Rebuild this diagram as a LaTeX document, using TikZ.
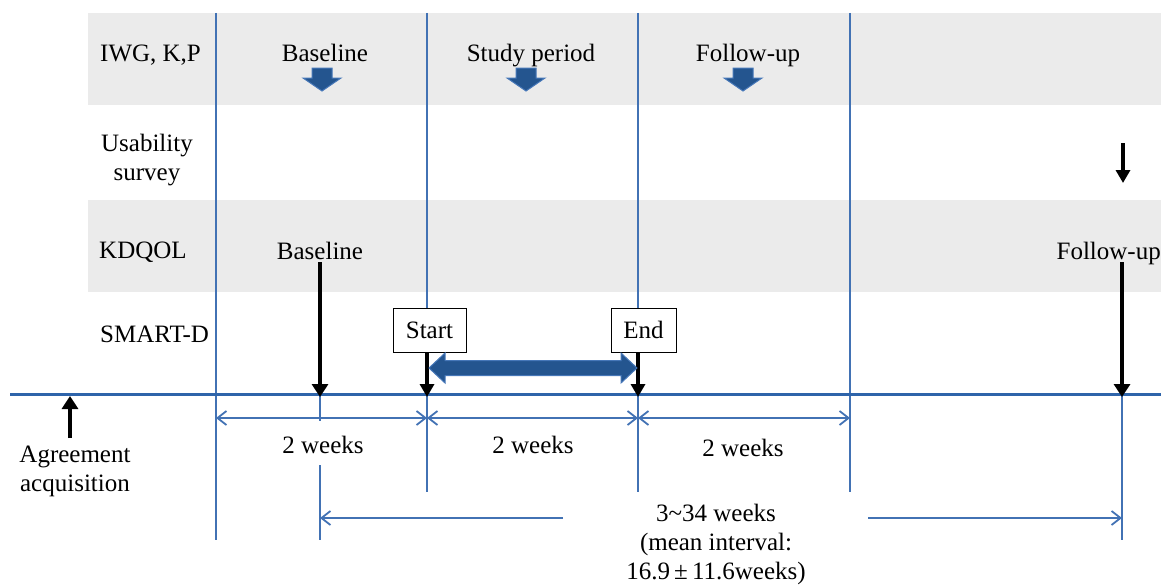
\documentclass[tikz,border=0pt]{standalone}
\usepackage{fontspec}
\setmainfont{Liberation Serif}
\usetikzlibrary{arrows.meta,calc}
\definecolor{lineblue}{HTML}{4272B4}
\definecolor{timeblue}{HTML}{2E64AA}
\definecolor{bandgray}{HTML}{EBEBEB}
\definecolor{arrowblue}{HTML}{24558F}
\definecolor{arrowedge}{HTML}{4677B8}
\begin{document}
\begin{tikzpicture}[x=1pt,y=-1pt,
  lbl/.style={font=\fontsize{25}{29}\selectfont, inner sep=0pt, text=black},
  vguide/.style={draw=lineblue, line width=1.3pt},
  timeline/.style={draw=timeblue, line width=3pt},
  dimarrow/.style={draw=lineblue, line width=1.8pt, {Straight Barb[length=9pt,width=14pt]}-{Straight Barb[length=9pt,width=14pt]}},
  halfdim/.style={draw=lineblue, line width=1.8pt, -{Straight Barb[length=9pt,width=14pt]}},
  blackarrow/.style={draw=black, line width=4.5pt, -{Triangle[length=13pt,width=16pt]}},
  thinblack/.style={draw=black, line width=3.5pt, -{Triangle[length=13pt,width=14pt]}},
  boxnode/.style={draw=black, fill=white, line width=1pt, minimum height=44pt, inner sep=0pt, font=\fontsize{25}{29}\selectfont},
  blockfill/.style={fill=arrowblue, draw=arrowedge, line width=1pt},
  downblock/.pic={\path[blockfill] (-10,0) -- (10,0) -- (10,10) -- (19,10) -- (0,23) -- (-19,10) -- (-10,10) -- cycle;}
]
\useasboundingbox (0,0) rectangle (1161,586);
% bands
\fill[bandgray] (88,13) rectangle (1161,105);
\fill[bandgray] (88,200) rectangle (1161,292);
% vertical guides
\draw[vguide] (216,13) -- (216,540);
\draw[vguide] (427,13) -- (427,492);
\draw[vguide] (638,13) -- (638,492);
\draw[vguide] (850,13) -- (850,492);
\draw[vguide] (320,396) -- (320,421);
\draw[vguide] (320,465) -- (320,540);
\draw[vguide] (1122,396) -- (1122,540);
% timeline
\coordinate (tl0) at (10,394);
\coordinate (tl1) at (1161,394);
\draw[timeline] (tl0) -- (tl1);
\coordinate (t70) at (70,396);
\coordinate (t320) at (320,397);
\coordinate (t427) at (427,397);
\coordinate (t638) at (638,397);
\coordinate (t1122) at (1122,397);
% dimension arrows
\coordinate (d216) at (216,418);
\coordinate (d427) at (427,418);
\coordinate (d638) at (638,418);
\coordinate (d850) at (850,418);
\draw[dimarrow] (d216) -- (d427);
\draw[dimarrow] (d427) -- (d638);
\draw[dimarrow] (d638) -- (d850);
\coordinate (l320) at (320,518);
\coordinate (l563) at (563,518);
\coordinate (l868) at (868,518);
\coordinate (l1122) at (1122,518);
\draw[halfdim] (l563) -- (l320);
\draw[halfdim] (l868) -- (l1122);
% row labels
\node[lbl, anchor=base west] (r1) at (100,61) {IWG, K,P};
\node[lbl, anchor=north, align=center] (r2) at (147,134) {Usability\\survey};
\node[lbl, anchor=base west] (r3) at (99,258) {KDQOL};
\node[lbl, anchor=base west] (r4) at (100,342) {SMART-D};
% row 1
\node[lbl, anchor=base] (b1) at (325,61) {Baseline};
\node[lbl, anchor=base] (s1) at (531,61) {Study period};
\node[lbl, anchor=base] (f1) at (748,61) {Follow-up};
\pic at (322,68) {downblock};
\pic at (526,68) {downblock};
\pic at (743,68) {downblock};
% row 2
\coordinate (u0) at (1123,143);
\coordinate (u1) at (1123,183);
\draw[thinblack] (u0) -- (u1);
% row 3
\node[lbl, anchor=base] (kb) at (320,259) {Baseline};
\node[lbl, anchor=base east] (kf) at (1161,259) {Follow-up};
\coordinate (kf0) at (1122,262);
\draw[blackarrow] ($(kb.south)+(0,3)$) -- (t320);
\draw[blackarrow] (kf0) -- (t1122);
% row 4
\node[boxnode, minimum width=73pt] (st) at (429.5,330) {Start};
\node[boxnode, minimum width=65pt] (en) at (643.5,330) {End};
\draw[thinblack] (st.south -| t427) -- (t427);
\draw[thinblack] (en.south -| t638) -- (t638);
% double block arrow
\path[blockfill] (429,368) -- (445,353) -- (445,360.5) -- (621,360.5) -- (621,353) -- (637,368) -- (621,383) -- (621,375.5) -- (445,375.5) -- (445,383) -- cycle;
% agreement
\node[lbl, align=center, anchor=north] (ag) at (75,446) {Agreement\\acquisition};
\draw[blackarrow] ($(ag.north)+(-5,-8)$) -- (t70);
% week labels
\node[lbl, anchor=base] (w1) at (323,453) {2 weeks};
\node[lbl, anchor=base] (w2) at (533,453) {2 weeks};
\node[lbl, anchor=base] (w3) at (743,456) {2 weeks};
\node[lbl, align=center, anchor=north] (iv) at (716,504) {3\textasciitilde34 weeks\\(mean interval:\\16.9\,±\,11.6weeks)};
\end{tikzpicture}
\end{document}
